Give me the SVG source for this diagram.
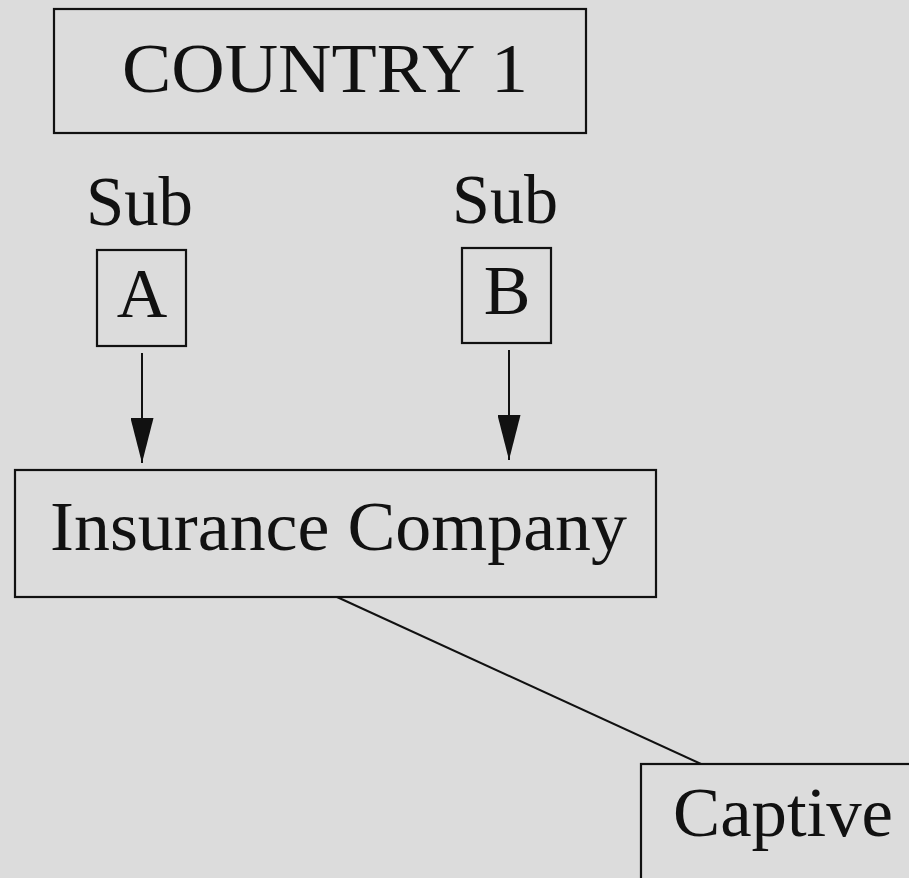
<svg xmlns="http://www.w3.org/2000/svg" width="909" height="878" viewBox="0 0 909 878">
<style>
.box{fill:none;stroke:#111;stroke-width:2.2}
.t{font-family:"Liberation Serif","Times New Roman",serif;font-size:70px;fill:#111}
.c{stroke:#111;stroke-width:2;fill:none}
</style>
<defs>
<marker id="ah" viewBox="0 0 45 23" refX="45" refY="11.5" markerWidth="45" markerHeight="23" markerUnits="userSpaceOnUse" orient="auto">
<path d="M0,0 L45,11.5 L0,23 z" fill="#111"/>
</marker>
</defs>
<rect width="909" height="878" fill="#dcdcdc"/>
<g id="country1">
<rect class="box" x="54" y="9" width="532" height="124"/>
<text class="t" x="122" y="92" textLength="406" lengthAdjust="spacingAndGlyphs">COUNTRY 1</text>
</g>
<g id="subA">
<text class="t" x="86" y="225" textLength="107" lengthAdjust="spacingAndGlyphs">Sub</text>
<rect class="box" x="97" y="250" width="89" height="96"/>
<text class="t" x="142" y="317" text-anchor="middle">A</text>
</g>
<g id="subB">
<text class="t" x="452" y="223" textLength="106" lengthAdjust="spacingAndGlyphs">Sub</text>
<rect class="box" x="462" y="248" width="89" height="95"/>
<text class="t" x="507" y="314" text-anchor="middle">B</text>
</g>
<g id="insurance">
<rect class="box" x="15" y="470" width="641" height="127"/>
<text class="t" x="50" y="550" textLength="577" lengthAdjust="spacingAndGlyphs">Insurance Company</text>
</g>
<g id="captive">
<rect class="box" x="641" y="764" width="280" height="130"/>
<text class="t" x="673" y="836" textLength="220" lengthAdjust="spacingAndGlyphs">Captive</text>
</g>
<g id="connectors">
<line class="c" x1="142" y1="353" x2="142" y2="463" marker-end="url(#ah)"/>
<line class="c" x1="509" y1="350" x2="509" y2="460" marker-end="url(#ah)"/>
<line class="c" x1="337" y1="597" x2="701" y2="764"/>
</g>
</svg>
